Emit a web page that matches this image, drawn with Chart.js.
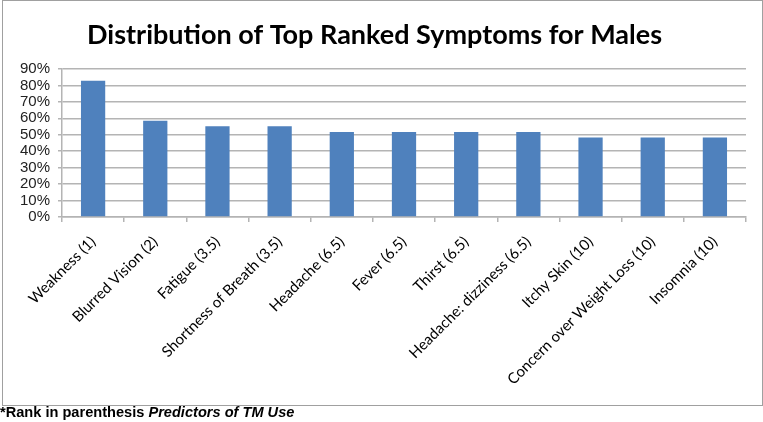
<!DOCTYPE html>
<html>
<head>
<meta charset="utf-8">
<script src="https://cdn.jsdelivr.net/npm/chart.js@4.4.0/dist/chart.umd.min.js"></script>
<style>
  body { margin: 0; background: #fff; }
  #wrap { position: relative; width: 763px; height: 422px; }
  #frame {
    position: absolute; left: 2px; top: 0px; width: 759px; height: 404px;
    border: 1px solid #a0a0a0;
  }
  #note {
    position: absolute; left: 0; top: 404px;
    font: bold 14.6px "Liberation Sans", Arial, sans-serif; color: #000;
  }
</style>
</head>
<body>
<div id="wrap">
  <div id="frame"><canvas id="chart" width="759" height="404"></canvas></div>
  <div id="note">*Rank in parenthesis <i>Predictors of TM Use</i></div>
</div>
<script>
// chart data
const symptoms = [
  "Weakness (1)", "Blurred Vision (2)", "Fatigue (3.5)", "Shortness of Breath (3.5)",
  "Headache (6.5)", "Fever (6.5)", "Thirst (6.5)", "Headache: dizziness (6.5)",
  "Itchy Skin (10)", "Concern over Weight Loss (10)", "Insomnia (10)"
];
const percentages = [82.8, 58.6, 55.2, 55.2, 51.7, 51.7, 51.7, 51.7, 48.3, 48.3, 48.3];
const yTicks = [0, 10, 20, 30, 40, 50, 60, 70, 80, 90];

const gridColor = "#b4b4b4";

const ctx = document.getElementById("chart").getContext("2d");
new Chart(ctx, {
  type: "bar",
  data: {
    labels: symptoms,
    datasets: [
      {
        data: percentages,
        backgroundColor: "#4f81bd",
        borderWidth: 0,
        barPercentage: 0.78,
        categoryPercentage: 0.5,
      },
    ],
  },
  options: {
    responsive: false,
    animation: false,
    layout: { padding: { top: 0, right: 16, left: 0, bottom: 0 } },
    plugins: {
      legend: { display: false },
      tooltip: { enabled: false },
      title: {
        display: true,
        text: "Distribution of Top Ranked Symptoms for Males",
        color: "#000",
        font: { family: "Lato, 'Open Sans', sans-serif", size: 27, weight: "bold", lineHeight: 1.2 },
        padding: { top: 18, bottom: 17.6 },
      },
    },
    scales: {
      x: {
        grid: {
          drawOnChartArea: false,
          color: gridColor,
          tickLength: 5,
          lineWidth: 1.5,
        },
        border: { color: gridColor, width: 1.5 },
        ticks: {
          color: "#000",
          font: { family: "Lato, 'Open Sans', sans-serif", size: 15 },
          maxRotation: 45,
          minRotation: 45,
          autoSkip: false,
          padding: 11,
        },
        afterFit: (scale) => { scale.height = 188; },
      },
      y: {
        min: 0,
        max: 90,
        afterBuildTicks: (scale) => {
          scale.ticks = yTicks.map((v) => ({ value: v }));
        },
        grid: { color: gridColor, lineWidth: 1.5, tickLength: 4 },
        border: { color: gridColor, width: 1.5 },
        ticks: {
          color: "#222",
          font: { family: "'Liberation Sans', Arial, sans-serif", size: 15 },
          padding: 8,
          autoSkip: false,
          callback: (v) => v + "%",
        },
        afterFit: (scale) => { scale.width = 59; },
      },
    },
  },
});
</script>
</body>
</html>
